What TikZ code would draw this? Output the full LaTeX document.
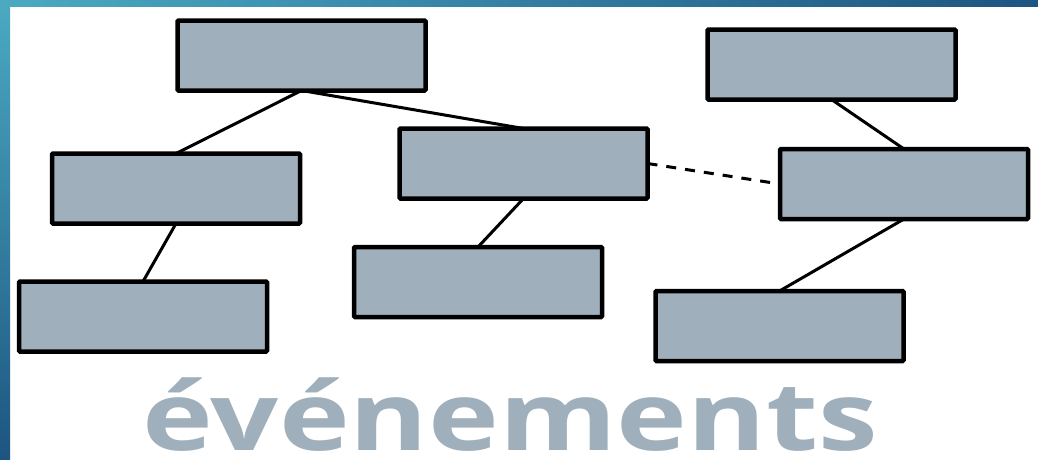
\documentclass[tikz,border=0pt]{standalone}
\usepackage{fontspec}
\setmainfont{Open Sans}
\definecolor{framelight}{HTML}{4BAAC2}
\definecolor{framedark}{HTML}{1D5580}
\definecolor{boxgray}{HTML}{9FB0BC}
\tikzset{
  evbox/.style={draw=black, fill=boxgray, line width=4.5pt, rounded corners=1pt,
    minimum width=248pt, minimum height=70pt, inner sep=0pt, outer sep=0pt},
  link/.style={line width=3pt}
}
\begin{document}
\begin{tikzpicture}[x=1pt, y=-1pt]
        \useasboundingbox (0,0) rectangle (1038,459);
        \fill[white] (0,0) rectangle (1038,459);
        \shade[top color=framelight, bottom color=framedark] (0,0) rectangle (10,459);
        \shade[left color=framelight, right color=framedark] (0,0) rectangle (1038,6);
        % boxes
        \node[evbox] (top) at (301.5,55.5) {};
        \node[evbox] (left) at (176,188.5) {};
        \node[evbox] (leftlow) at (143,316.5) {};
        \node[evbox] (mid) at (523.5,163.5) {};
        \node[evbox] (midlow) at (478,282) {};
        \node[evbox] (right) at (831.5,64.5) {};
        \node[evbox] (rightmid) at (904,184) {};
        \node[evbox] (rightlow) at (779.5,326) {};
        % links
        \draw[link] (top.south) -- (left.north);
        \draw[link] (top.south) -- (mid.north);
        \draw[link] (left.south) -- (leftlow.north);
        \draw[link] (mid.south) -- (midlow.north);
        \draw[link, dash pattern=on 10pt off 9pt] (mid.east) -- (rightmid.west);
        \draw[link] (right.south) -- (rightmid.north);
        \draw[link] (rightmid.south) -- (rightlow.north);
        \node[text=boxgray, font=\fontsize{95}{95}\selectfont\bfseries, anchor=base,
          xscale=1.26, inner sep=0pt] (word) at (510,450) {événements};
    \end{tikzpicture}
\end{document}
